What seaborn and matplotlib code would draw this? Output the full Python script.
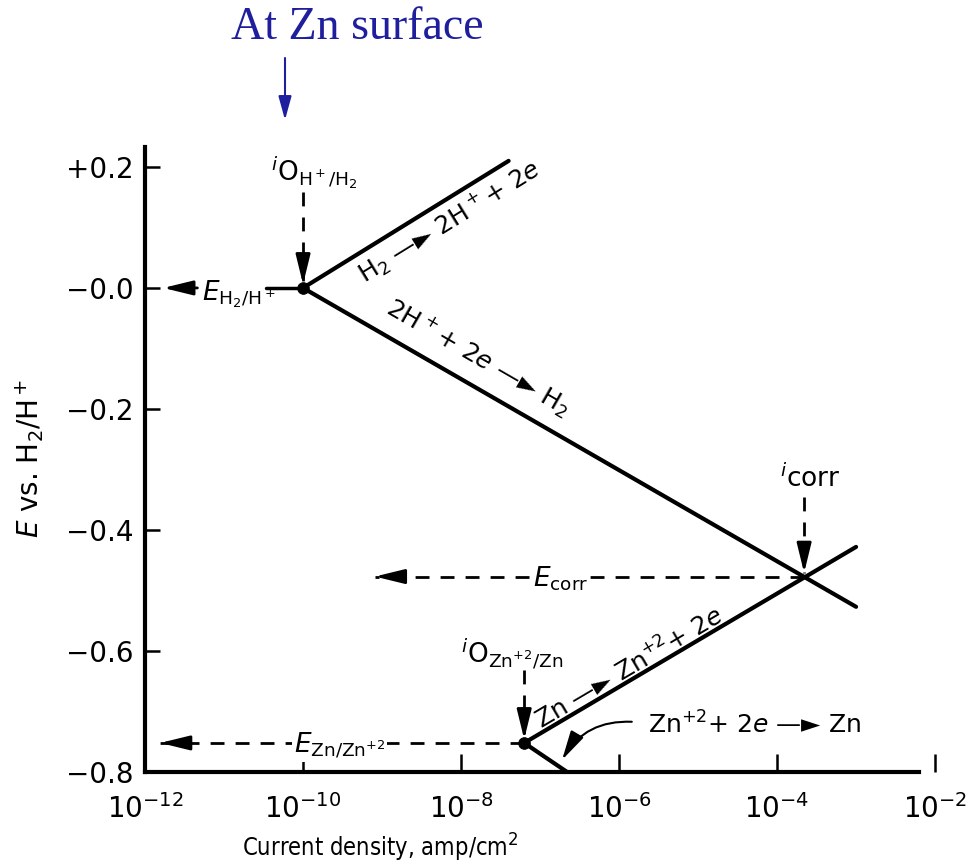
import numpy as np
import pandas as pd
import matplotlib
matplotlib.use("Agg")
import matplotlib.pyplot as plt
import seaborn as sns

# ---------------- data ----------------
tick_E = [0.2, 0.0, -0.2, -0.4, -0.6, -0.8]
tick_E_labels = ["+0.2", "\u22120.0", "\u22120.2", "\u22120.4", "\u22120.6", "\u22120.8"]
tick_i = [1e-12, 1e-10, 1e-8, 1e-6, 1e-4, 1e-2]
tick_i_labels = [r"$10^{-12}$", r"$10^{-10}$", r"$10^{-8}$", r"$10^{-6}$", r"$10^{-4}$", r"$10^{-2}$"]

i0_H, E_H = 1e-10, 0.0          # exchange current / equilibrium potential H2/H+
i0_Zn, E_Zn = 6.3e-8, -0.752    # exchange current / equilibrium potential Zn/Zn+2
i_corr, E_corr = 2.2e-4, -0.477  # corrosion point

h_ox_i = [1e-10, 4.0e-8]
h_ox_E = [0.0, 0.21]
h_red_i = [1e-10, 1.0e-3]
h_red_E = [0.0, -0.527]
zn_ox_i = [6.3e-8, 1.0e-3]
zn_ox_E = [-0.752, -0.428]
zn_red_i = [6.3e-8, 2.2e-7]
zn_red_E = [-0.752, -0.80]

curve_names = ["H2 ox", "H2 red", "Zn ox", "Zn red"]

# ---------------- style ----------------
sns.set_theme(style="ticks")
plt.rcParams["font.family"] = ["DejaVu Sans"]
plt.rcParams["mathtext.fontset"] = "dejavusans"
for k in ["text.color", "axes.labelcolor", "xtick.color", "ytick.color", "axes.edgecolor"]:
    plt.rcParams[k] = "black"

fig = plt.figure(figsize=(9.78, 8.64), dpi=100)
ax = fig.add_axes([0.1483, 0.1065, 0.8078, 0.7234])
ax.set_xscale("log")

df = pd.DataFrame({
    "i": h_ox_i + h_red_i + zn_ox_i + zn_red_i,
    "E": h_ox_E + h_red_E + zn_ox_E + zn_red_E,
    "curve": sum([[n, n] for n in curve_names], []),
})
sns.lineplot(data=df, x="i", y="E", units="curve", estimator=None, sort=False,
             color="black", lw=3.0, ax=ax, legend=False)
sns.scatterplot(x=[i0_H, i0_Zn], y=[E_H, E_Zn], color="black", s=70,
                edgecolor="black", zorder=5, ax=ax, legend=False)

# short solid lead to the H2/H+ equilibrium point
ax.plot([3.4e-11, i0_H], [E_H, E_H], color="black", lw=2.5)

ax.set_xlim(1e-12, 1e-2)
ax.set_ylim(-0.8, 0.233)
ax.set_xticks(tick_i)
ax.set_xticklabels(tick_i_labels)
ax.set_yticks(tick_E)
ax.set_yticklabels(tick_E_labels)
ax.minorticks_off()
ax.set_xlabel("")
ax.set_ylabel("")

sns.despine(ax=ax)
for s in ["left", "bottom"]:
    ax.spines[s].set_linewidth(3)
    ax.spines[s].set_color("black")
ax.spines["bottom"].set_bounds(1e-12, 10 ** -2.2)
ax.tick_params(axis="both", direction="in", colors="black", labelsize=20, width=1.8)
ax.tick_params(axis="y", length=11, pad=8)
ax.tick_params(axis="x", length=13, pad=16)

DASH = (0, (5, 4))
HEAD = dict(arrowstyle="-|>,head_length=0.9,head_width=0.22", color="black",
            lw=2, mutation_scale=20, shrinkA=0, shrinkB=0)


def dashed_arrow(x0, y0, x1, y1, off):
    ax.plot([x0, x1], [y0, y1], ls=DASH, color="black", lw=2)
    ax.annotate("", xy=(x1, y1), xytext=off, textcoords="offset points",
                arrowprops=HEAD)


# i0 H arrow
dashed_arrow(i0_H, 0.159, i0_H, E_H + 0.006, (0, 20))
# i_corr arrow
dashed_arrow(i_corr, -0.345, i_corr, E_corr + 0.006, (0, 20))
# i0 Zn arrow
dashed_arrow(i0_Zn, -0.631, i0_Zn, E_Zn + 0.006, (0, 20))
# E_corr arrow
dashed_arrow(i_corr, E_corr, 8.1e-10, E_corr, (20, 0))
# E_Zn arrow
dashed_arrow(i0_Zn, E_Zn, 1.55e-12, E_Zn, (20, 0))
# E_H2 arrow (solid short)
ax.annotate("", xy=(1.7e-12, E_H), xytext=(4.6e-12, E_H), arrowprops=HEAD)

# ---------------- labels ----------------
FS = 19
ax.text(5.3e-12, -0.021, r"$E_{\mathrm{H_2/H^+}}$", fontsize=FS, ha="left", va="baseline")
ax.text(1.8e-7, E_corr - 0.0165, r"$E_{\mathrm{corr}}$", fontsize=FS, ha="center",
        va="baseline", bbox=dict(facecolor="white", edgecolor="none", pad=1))
ax.text(2.9e-10, E_Zn - 0.0165, r"$E_{\mathrm{Zn/Zn^{+2}}}$", fontsize=FS, ha="center",
        va="baseline", bbox=dict(facecolor="white", edgecolor="none", pad=1))
ax.text(3.9e-11, 0.19, r"$^{i}\mathrm{O}_{\mathrm{H^+/H_2}}$", fontsize=FS, ha="left", va="center")
ax.text(1.1e-4, -0.316, r"$^{i}\mathrm{corr}$", fontsize=FS, ha="left", va="center")
ax.text(1.0e-8, -0.604, r"$^{i}\mathrm{O}_{\mathrm{Zn^{+2}/Zn}}$", fontsize=FS, ha="left", va="center")


def angle_of(xs, ys):
    p = ax.transData.transform(np.column_stack([xs, ys]))
    return np.degrees(np.arctan2(p[1, 1] - p[0, 1], p[1, 0] - p[0, 0]))


ARW = "\u2014\u25BA"
RF = 18
ax.text(7.2e-9, 0.109, "H$_2$ " + ARW + " 2H$^+$+ 2$e$", fontsize=RF, ha="center", va="center",
        rotation=angle_of(h_ox_i, h_ox_E), rotation_mode="anchor")
ax.text(1.66e-8, -0.114, "2H$^+$+ 2$e$ " + ARW + " H$_2$", fontsize=RF, ha="center", va="center",
        rotation=angle_of(h_red_i, h_red_E), rotation_mode="anchor")
ax.text(1.35e-6, -0.629, "Zn " + ARW + " Zn$^{+2}$+ 2$e$", fontsize=RF, ha="center", va="center",
        rotation=angle_of(zn_ox_i, zn_ox_E), rotation_mode="anchor")
ax.text(5.2e-5, -0.722, "Zn$^{+2}$+ 2$e$ " + ARW + " Zn", fontsize=RF, ha="center", va="center")
ax.annotate("", xy=(1.9e-7, -0.78), xytext=(1.45e-6, -0.717),
            arrowprops=dict(arrowstyle="-|>,head_length=0.9,head_width=0.22", color="black",
                            lw=1.5, mutation_scale=20, shrinkA=0, shrinkB=0,
                            connectionstyle="arc3,rad=0.3"))

# axis titles
fig.text(30 / 978, 1 - 458 / 864, r"$E$ vs. H$_2$/H$^+$", rotation=90, fontsize=20,
         ha="center", va="center")
fig.text(380 / 978, 1 - 848 / 864, "Current density, amp/cm$^2$", fontsize=17,
         ha="center", va="center", fontstretch="condensed")

# "At Zn surface" annotation
navy = "#1F1F9E"
fig.text(357 / 978, 1 - 28 / 864, "At Zn surface", fontsize=33, color=navy,
         ha="center", va="center", family=["Liberation Serif", "DejaVu Serif"])
ax.annotate("", xy=(285, 864 - 120), xytext=(285, 864 - 58), xycoords="figure pixels",
            textcoords="figure pixels", annotation_clip=False,
            arrowprops=dict(arrowstyle="-|>,head_length=0.8,head_width=0.22", color=navy,
                            lw=1.5, mutation_scale=18, shrinkA=0, shrinkB=0))

fig.savefig("out.png", dpi=100)
